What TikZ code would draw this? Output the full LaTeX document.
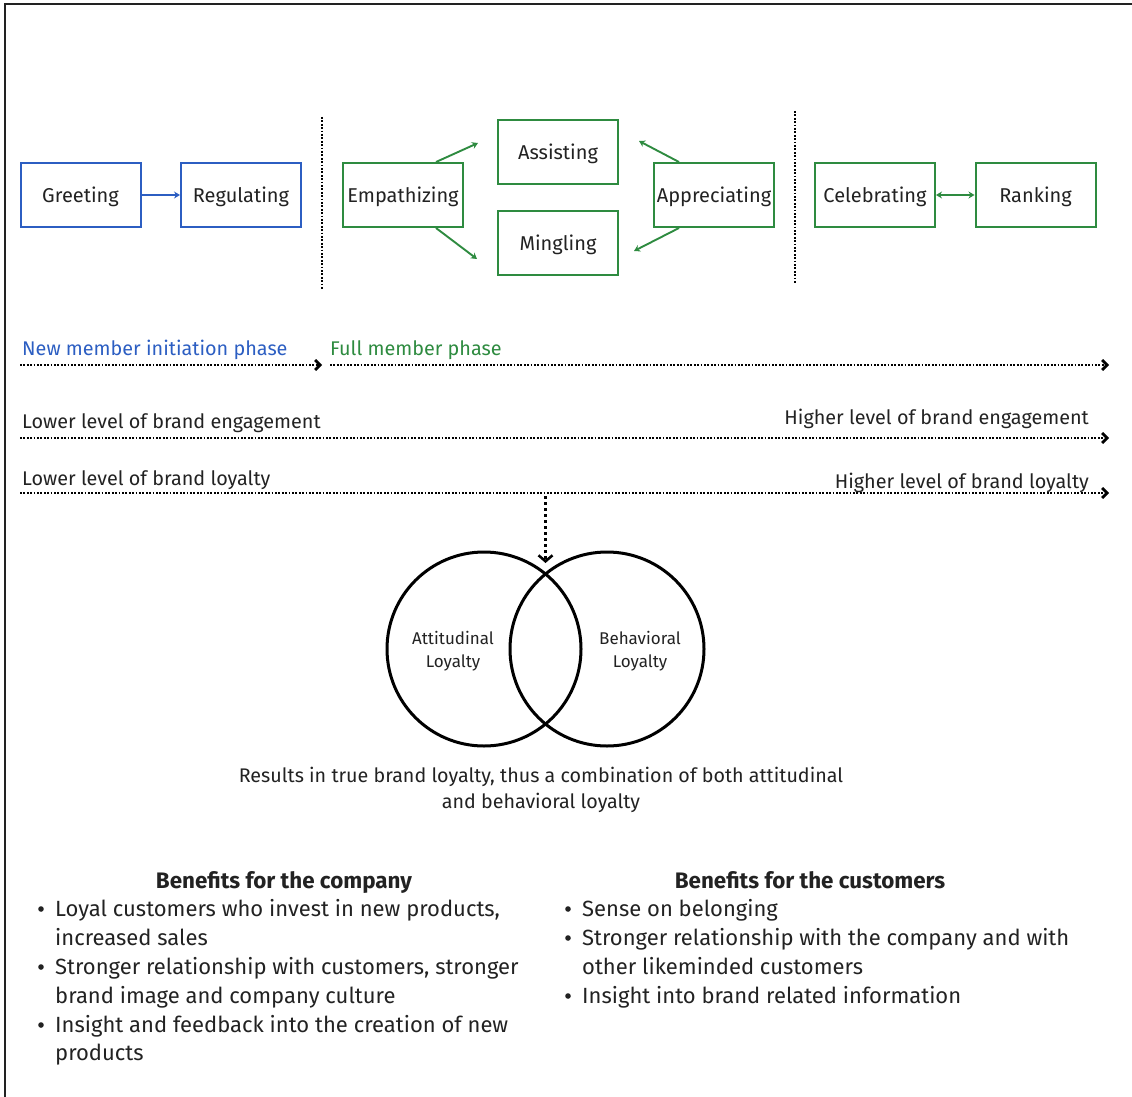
\documentclass[tikz,border=0pt]{standalone}
\usepackage{fontspec}
\setmainfont{Fira Sans}
\usetikzlibrary{arrows.meta,calc}
\definecolor{ink}{HTML}{222222}
\definecolor{blu}{HTML}{2C5EC2}
\definecolor{grn}{HTML}{2E8B40}

\begin{document}
\begin{tikzpicture}[x=1pt,y=-1pt,
  stage/.style={draw,line width=2pt,minimum width=120pt,minimum height=64pt,inner sep=0pt,
    font=\fontsize{20}{24}\selectfont,text=ink,text height=18pt,text depth=3.4pt},
  bstage/.style={stage,draw=blu},
  gstage/.style={stage,draw=grn},
  barrow/.style={blu,line width=1.8pt,-{Stealth[length=6pt,width=7pt]}},
  garrow/.style={grn,line width=1.9pt,-{Stealth[length=6pt,width=7pt]}},
  gboth/.style={grn,line width=1.8pt,{Stealth[length=6pt,width=7pt]}-{Stealth[length=6pt,width=7pt]}},
  dotsep/.style={line width=2.6pt,dash pattern=on 1.8pt off 1.6pt},
  dotarrow/.style={line width=2.6pt,dash pattern=on 1.8pt off 1.6pt,
    -{Straight Barb[length=5pt,width=10pt,line width=2.8pt]}},
  lbl/.style={inner sep=0pt,font=\fontsize{19.8}{24}\selectfont,text=ink,text height=14.3pt,text depth=4.4pt,yshift=-2.5pt},
  body/.style={inner sep=0pt,font=\fontsize{22}{26}\selectfont,text=ink,text height=15.8pt,text depth=4.8pt,yshift=-2.5pt},
  head/.style={body,font=\fontsize{22.4}{26}\selectfont\bfseries},
  bullet/.style={circle,fill=ink,inner sep=0pt,minimum size=5.6pt},
  venn/.style={circle,draw,line width=3pt,minimum size=194pt,inner sep=0pt},
  vlbl/.style={inner sep=0pt,font=\fontsize{17}{23}\selectfont,text=ink,align=center,yshift=-2pt},
]
\useasboundingbox (0,0) rectangle (1132,1097);

% outer frame
\draw[line width=2pt,ink] (5,1100) -- (5,4) -- (1135,4);

% stage boxes
\node[bstage] (greet) at (80.5,195) {Greeting};
\node[bstage] (reg)   at (241,195)  {Regulating};
\node[gstage] (emp)   at (403,195)  {Empathizing};
\node[gstage] (assi)  at (558,152)  {Assisting};
\node[gstage] (ming)  at (558,243)  {Mingling};
\node[gstage] (appr)  at (714,195)  {Appreciating};
\node[gstage] (cele)  at (875,195)  {Celebrating};
\node[gstage] (rank)  at (1035.5,195) {Ranking};

\draw[barrow] (greet) -- (reg);
\draw[gboth] (cele) -- (rank);

% arrows around the full-member core
\coordinate (ea) at (478,143);
\coordinate (em) at (477,259);
\coordinate (aa) at (639,141);
\coordinate (am) at (634,251);
\draw[garrow] ($(emp.north east)+(-28,0)$) -- (ea);
\draw[garrow] ($(emp.south east)+(-28,0)$) -- (em);
\draw[garrow] ($(appr.north west)+(26,0)$) -- (aa);
\draw[garrow] ($(appr.south west)+(26,0)$) -- (am);

% phase separators
\coordinate (s1t) at (322,117);
\coordinate (s1b) at (322,290);
\coordinate (s2t) at (795,111);
\coordinate (s2b) at (795,284);
\draw[dotsep] (s1t) -- (s1b);
\draw[dotsep] (s2t) -- (s2b);

% phase axis
\node[lbl,anchor=west,text=blu] (newph) at (22,348) {New member initiation phase};
\node[lbl,anchor=west,text=grn] (fullph) at (330,348) {Full member phase};
\coordinate (p0) at (20,365);
\coordinate (p1) at (322,365);
\coordinate (p2) at (330,365);
\coordinate (p3) at (1109,365);
\draw[dotarrow] (p0) -- (p1);
\draw[dotarrow] (p2) -- (p3);

% engagement axis
\node[lbl,anchor=west] (loeng) at (22,421) {Lower level of brand engagement};
\node[lbl,anchor=east] (hieng) at (1089,417) {Higher level of brand engagement};
\coordinate (e0) at (20,438);
\coordinate (e1) at (1109,438);
\draw[dotarrow] (e0) -- (e1);

% loyalty axis
\node[lbl,anchor=west] (loloy) at (22,478) {Lower level of brand loyalty};
\node[lbl,anchor=east] (hiloy) at (1089,481) {Higher level of brand loyalty};
\coordinate (l0) at (20,493);
\coordinate (l1) at (1109,493);
\draw[dotarrow] (l0) -- (l1);

% loyalty Venn diagram
\node[venn] (att) at (484,649) {};
\node[venn] (beh) at (607,649) {};
\node[vlbl] (attl) at (453,649) {Attitudinal\\Loyalty};
\node[vlbl] (behl) at (640,649) {Behavioral\\Loyalty};
\coordinate (d0) at (545.5,496);
\coordinate (d1) at (545.5,563);
\draw[line width=3pt,dash pattern=on 3pt off 3pt,
  -{Straight Barb[length=6pt,width=14pt,line width=2.6pt]}] (d0) -- (d1);

\node[inner sep=0pt,font=\fontsize{19.7}{26}\selectfont,text=ink,align=center,yshift=-2pt] (res) at (541,788)
  {Results in true brand loyalty, thus a combination of both attitudinal\\and behavioral loyalty};

% benefits for the company
\node[head] (hc) at (284,880) {Benefits for the company};
\foreach \y/\t in {908/{Loyal customers who invest in new products,},
                   937/{increased sales},
                   966/{Stronger relationship with customers, stronger},
                   995/{brand image and company culture},
                   1024/{Insight and feedback into the creation of new},
                   1052/{products}}{
  \node[body,anchor=west] at (55,\y) {\t};
}
\foreach \y in {909,967,1025}{ \node[bullet] at (41,\y) {}; }

% benefits for the customers
\node[head] (hk) at (810,880) {Benefits for the customers};
\foreach \y/\t in {908/{Sense on belonging},
                   937/{Stronger relationship with the company and with},
                   966/{other likeminded customers},
                   995/{Insight into brand related information}}{
  \node[body,anchor=west] at (582,\y) {\t};
}
\foreach \y in {909,938,996}{ \node[bullet] at (568,\y) {}; }
\end{tikzpicture}
\end{document}
